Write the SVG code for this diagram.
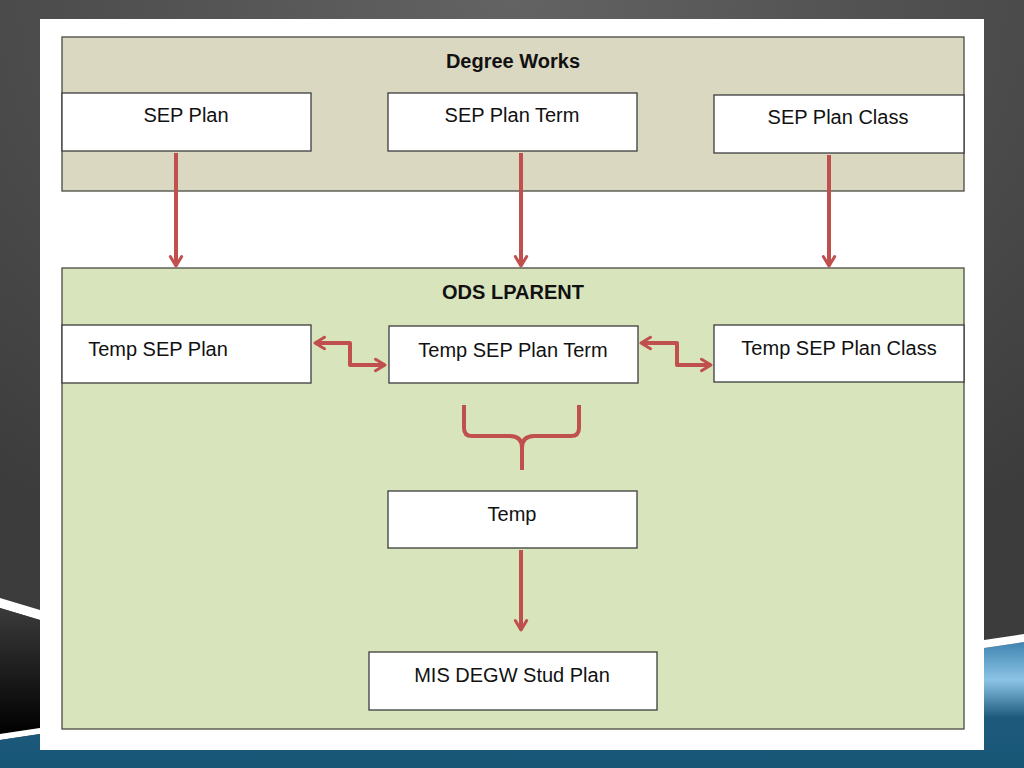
<svg xmlns="http://www.w3.org/2000/svg" width="1024" height="768" viewBox="0 0 1024 768">
<defs>
<radialGradient id="bg" cx="0.5" cy="0" r="0.8">
<stop offset="0" stop-color="#636363"/><stop offset="1" stop-color="#3c3c3c"/>
</radialGradient>
<linearGradient id="blk" x1="0" y1="0" x2="0" y2="1">
<stop offset="0" stop-color="#3a3a3a"/><stop offset="1" stop-color="#000"/>
</linearGradient>
<linearGradient id="blue" x1="0" y1="0" x2="0" y2="1">
<stop offset="0" stop-color="#3f84b0"/><stop offset="0.3" stop-color="#8cc4e6"/><stop offset="0.6" stop-color="#1d5a7c"/><stop offset="1" stop-color="#185676"/>
</linearGradient>
<marker id="ah" viewBox="0 0 12 12" refX="10" refY="6" markerWidth="3.8" markerHeight="3.8" orient="auto-start-reverse" markerUnits="strokeWidth">
<polyline points="2.5,1.5 10,6 2.5,10.5" fill="none" stroke="#c0504d" stroke-width="2.4" stroke-linecap="round" stroke-linejoin="round"/>
</marker>
<style>
.cont{stroke:#4a4a42;stroke-width:1.3}
.box{fill:#fff;stroke:#3c3c3c;stroke-width:1.3}
.t{font-family:"Liberation Sans",Arial,sans-serif;font-size:20px;fill:#111;text-anchor:middle}
.b{font-weight:bold}
.c{fill:none;stroke:#c0504d;stroke-width:4;stroke-linejoin:round}
</style>
</defs>
<rect x="0" y="0" width="1024" height="768" fill="url(#bg)"/>
<polygon points="0,598 40,610 40,620 0,608" fill="#fff"/>
<polygon points="0,608 40,620 40,728 0,734" fill="url(#blk)"/>
<polygon points="0,734 40,728 40,734 0,740" fill="#fff"/>
<polygon points="0,740 40,734 984,734 984,648 1024,642 1024,768 0,768" fill="url(#blue)"/>
<polygon points="984,640 1024,634 1024,642 984,648" fill="#fff"/>
<rect x="40" y="19" width="944" height="731" fill="#fff"/>

<g id="degree-works">
<rect class="cont" x="62" y="37" width="902" height="154" fill="#dbd8c2"/>
<text class="t b" x="513" y="68">Degree Works</text>
</g>
<g id="sep-plan"><rect class="box" x="62" y="93" width="249" height="58"/><text class="t" x="186" y="122">SEP Plan</text></g>
<g id="sep-plan-term"><rect class="box" x="388" y="93" width="249" height="58"/><text class="t" x="512" y="122">SEP Plan Term</text></g>
<g id="sep-plan-class"><rect class="box" x="714" y="95" width="250" height="58"/><text class="t" x="838" y="124">SEP Plan Class</text></g>

<g id="ods-lparent">
<rect class="cont" x="62" y="268" width="902" height="461" fill="#d8e4bc"/>
<text class="t b" x="513" y="299">ODS LPARENT</text>
</g>
<g id="temp-sep-plan"><rect class="box" x="62" y="325" width="249" height="58"/><text class="t" x="158" y="356">Temp SEP Plan</text></g>
<g id="temp-sep-plan-term"><rect class="box" x="389" y="326" width="249" height="57"/><text class="t" x="513" y="357">Temp SEP Plan Term</text></g>
<g id="temp-sep-plan-class"><rect class="box" x="714" y="325" width="250" height="57"/><text class="t" x="839" y="355">Temp SEP Plan Class</text></g>
<g id="temp"><rect class="box" x="388" y="491" width="249" height="57"/><text class="t" x="512" y="521">Temp</text></g>
<g id="mis-degw"><rect class="box" x="369" y="652" width="288" height="58"/><text class="t" x="512" y="682">MIS DEGW Stud Plan</text></g>

<g id="connectors">
<line class="c" x1="176" y1="153" x2="176" y2="266" marker-end="url(#ah)"/>
<line class="c" x1="521" y1="153" x2="521" y2="266" marker-end="url(#ah)"/>
<line class="c" x1="829" y1="155" x2="829" y2="266" marker-end="url(#ah)"/>
<polyline class="c" points="315,343 350,343 350,365 385,365" marker-start="url(#ah)" marker-end="url(#ah)"/>
<polyline class="c" points="641,343 677,343 677,365 711,365" marker-start="url(#ah)" marker-end="url(#ah)"/>
<path class="c" d="M464,405 L464,428 Q464,436 472,436 L510,436 Q522,436 522,448 L522,470 M522,448 Q522,436 534,436 L571,436 Q579,436 579,428 L579,405"/>
<line class="c" x1="521" y1="550" x2="521" y2="630" marker-end="url(#ah)"/>
</g>
</svg>
